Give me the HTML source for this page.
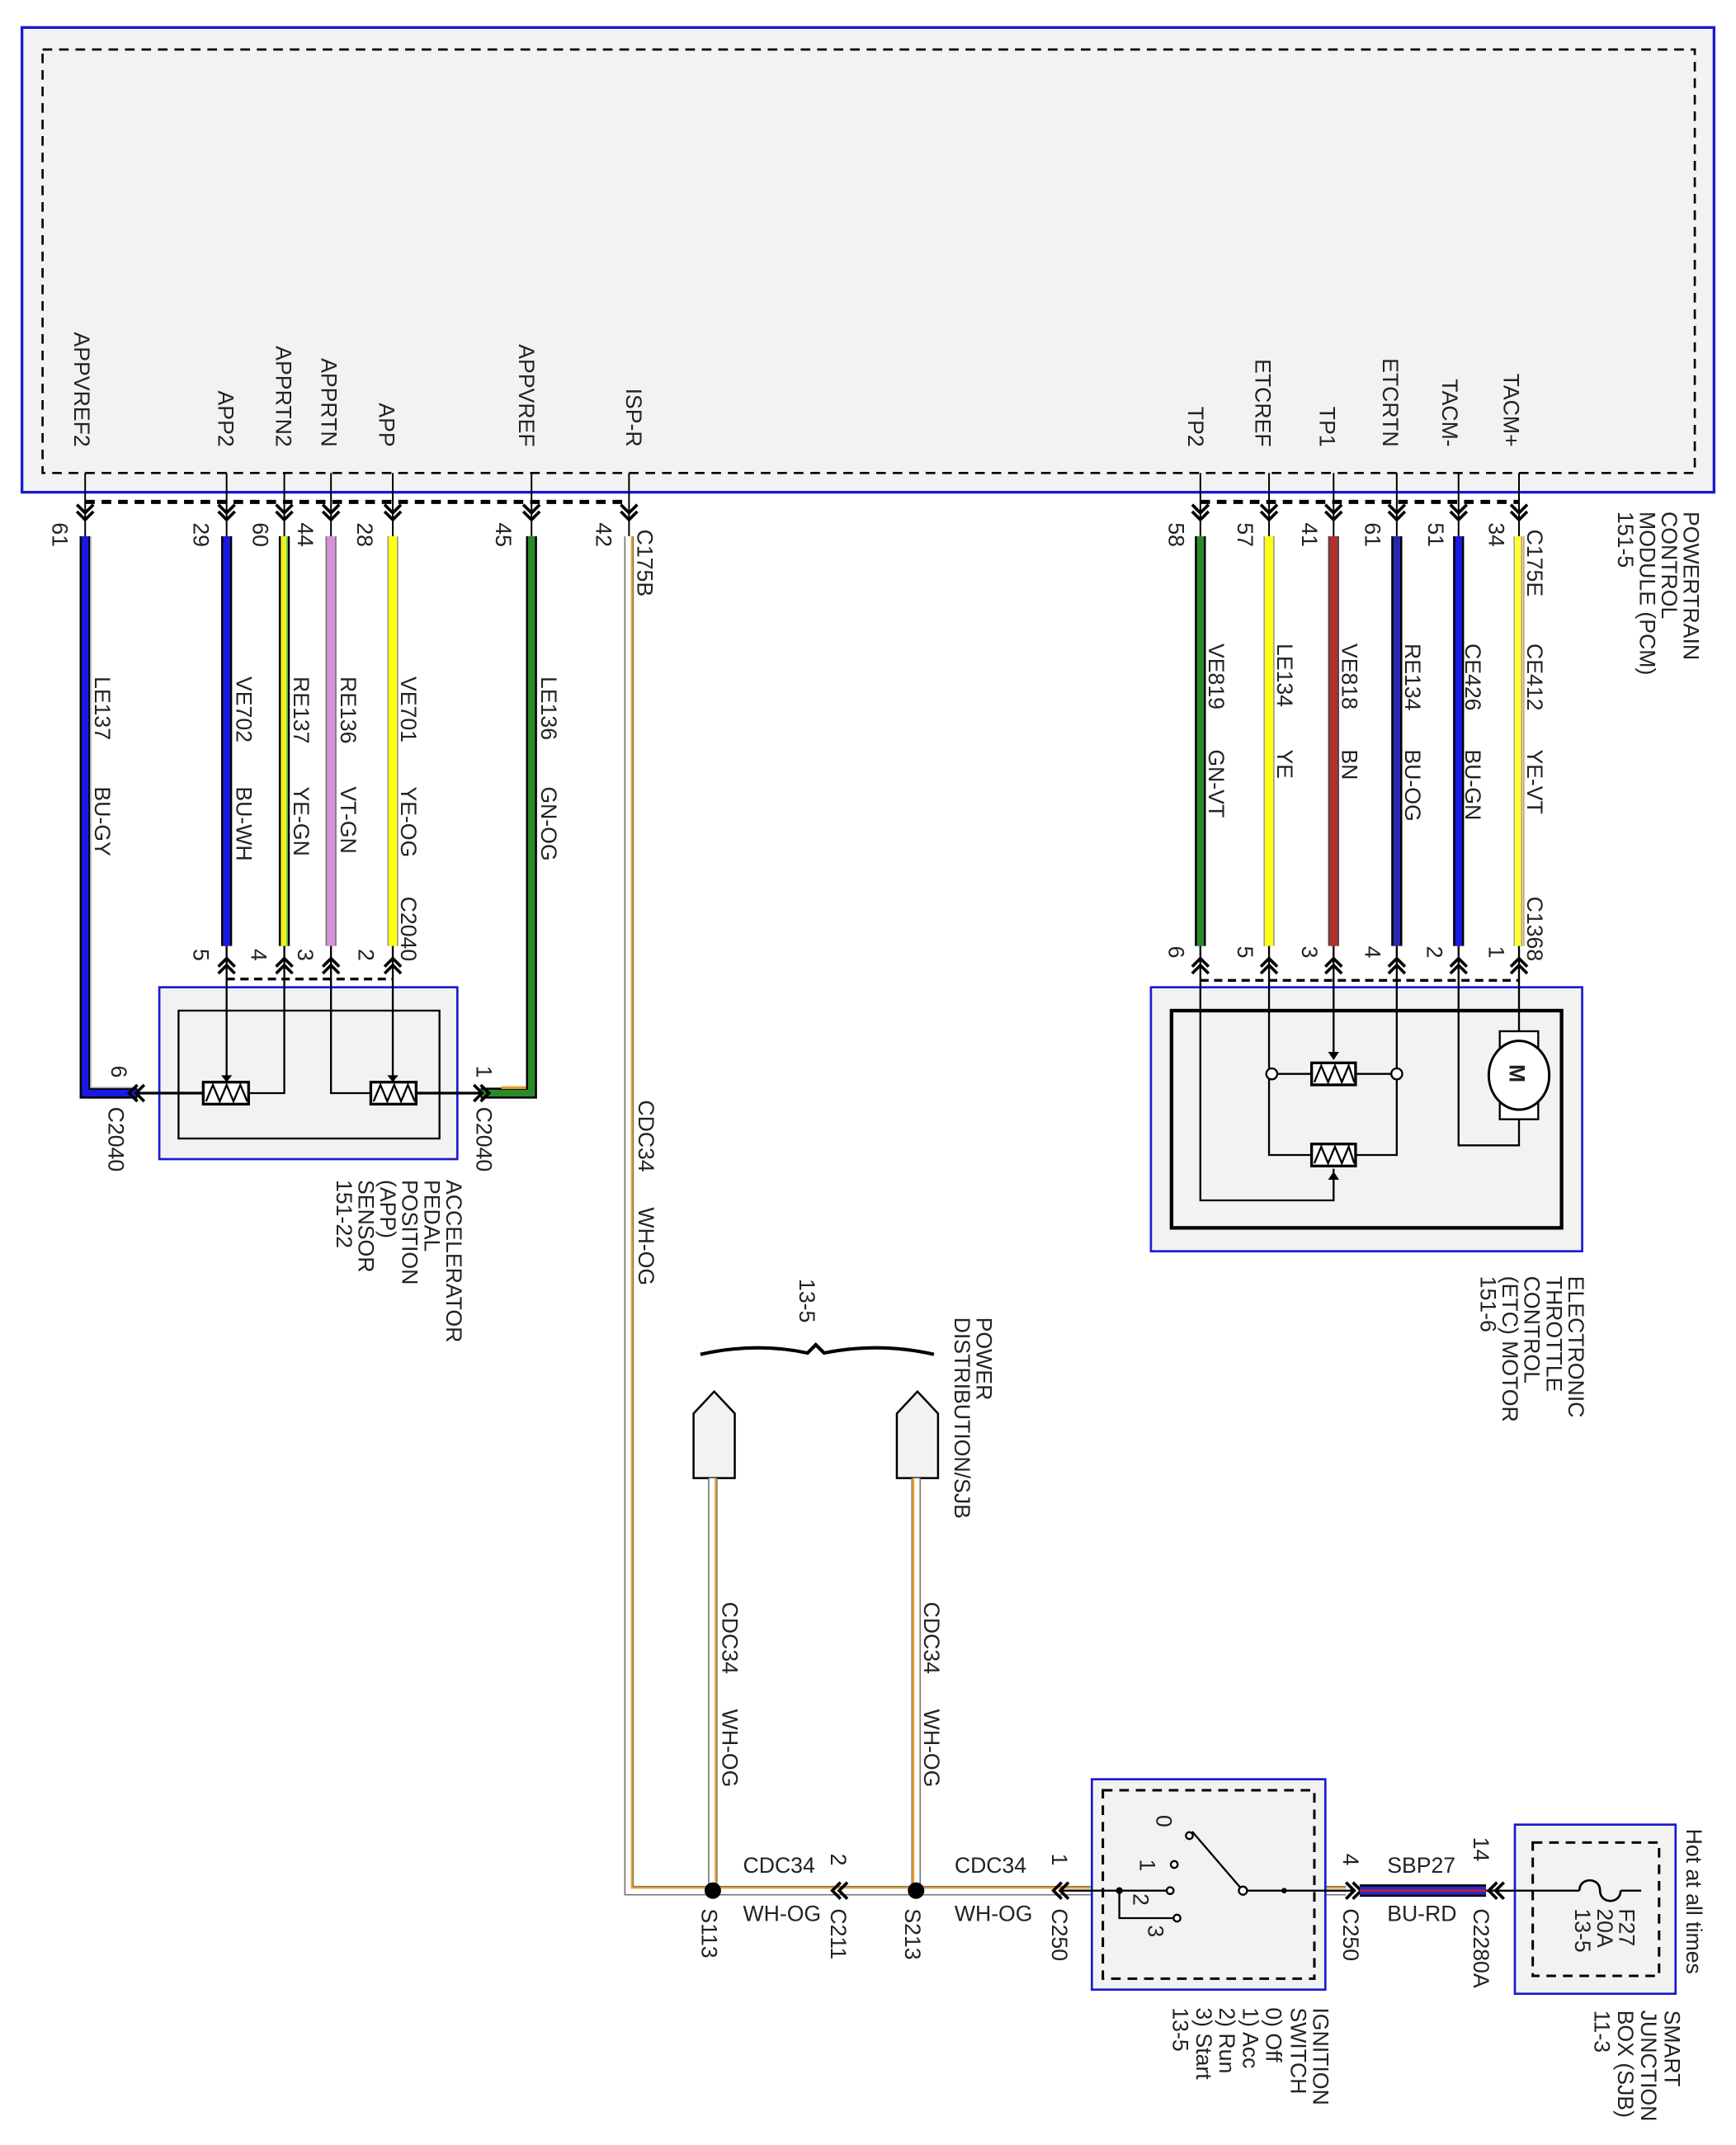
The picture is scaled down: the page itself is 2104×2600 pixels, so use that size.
<!DOCTYPE html>
<html><head><meta charset="utf-8"><style>
html,body{margin:0;padding:0;background:#fff}
svg{display:block}
text{font-family:"Liberation Sans",Arial,sans-serif;font-size:16px;fill:#222}
</style></head><body>
<svg width="2104" height="2600" viewBox="0 0 1264 1560" preserveAspectRatio="none" xmlns="http://www.w3.org/2000/svg">
<defs>
<g id="ad"><path d="M-6,-5 L0,1 L6,-5 M-6,0 L0,6 L6,0" fill="none" stroke="#000" stroke-width="2.2"/></g>
<g id="au"><path d="M-6,5 L0,-1 L6,5 M-6,0 L0,-6 L6,0" fill="none" stroke="#000" stroke-width="2.2"/></g>
<g id="al"><path d="M5,-6 L-1,0 L5,6 M0,-6 L-6,0 L0,6" fill="none" stroke="#000" stroke-width="2.2"/></g>
<g id="ar"><path d="M-5,-6 L1,0 L-5,6 M0,-6 L6,0 L0,6" fill="none" stroke="#000" stroke-width="2.2"/></g>
</defs>
<rect width="1264" height="1560" fill="#fff"/>
<!-- PCM -->
<rect x="16" y="20" width="1232" height="338" fill="#f2f2f2" stroke="#1a1ad0" stroke-width="2"/>
<rect x="31" y="36" width="1203" height="308" fill="none" stroke="#000" stroke-width="1.6" stroke-dasharray="7,5"/>
<path d="M62,365 H458" stroke="#000" stroke-width="3" stroke-dasharray="7,5"/>
<path d="M874,365 H1106" stroke="#000" stroke-width="3" stroke-dasharray="7,5"/>
<g stroke="#000" stroke-width="1.2">
<path d="M62,344V390M165,344V390M207,344V390M241,344V390M286,344V390M387,344V390M458,344V390"/>
<path d="M874,344V390M924,344V390M971,344V390M1017,344V390M1062,344V390M1106,344V390"/>
</g>
<g>
<use href="#ad" x="62" y="372"/><use href="#ad" x="165" y="372"/><use href="#ad" x="207" y="372"/><use href="#ad" x="241" y="372"/><use href="#ad" x="286" y="372"/><use href="#ad" x="387" y="372"/><use href="#ad" x="458" y="372"/>
<use href="#ad" x="874" y="372"/><use href="#ad" x="924" y="372"/><use href="#ad" x="971" y="372"/><use href="#ad" x="1017" y="372"/><use href="#ad" x="1062" y="372"/><use href="#ad" x="1106" y="372"/>
</g>
<!-- PCM pin labels -->
<g text-anchor="end">
<text transform="translate(54,325) rotate(90)">APPVREF2</text>
<text transform="translate(159,325) rotate(90)">APP2</text>
<text transform="translate(201,325) rotate(90)">APPRTN2</text>
<text transform="translate(234,325) rotate(90)">APPRTN</text>
<text transform="translate(276,325) rotate(90)">APP</text>
<text transform="translate(378,325) rotate(90)">APPVREF</text>
<text transform="translate(456,325) rotate(90)">ISP-R</text>
<text transform="translate(865,325) rotate(90)">TP2</text>
<text transform="translate(914,325) rotate(90)">ETCREF</text>
<text transform="translate(961,325) rotate(90)">TP1</text>
<text transform="translate(1007,325) rotate(90)">ETCRTN</text>
<text transform="translate(1050,325) rotate(90)">TACM-</text>
<text transform="translate(1095,325) rotate(90)">TACM+</text>
</g>
<!-- pin numbers top -->
<g fill="#444">
<text transform="translate(38,380) rotate(90)">61</text>
<text transform="translate(141,380) rotate(90)">29</text>
<text transform="translate(184,380) rotate(90)">60</text>
<text transform="translate(217,380) rotate(90)">44</text>
<text transform="translate(260,380) rotate(90)">28</text>
<text transform="translate(361,380) rotate(90)">45</text>
<text transform="translate(434,380) rotate(90)">42</text>
<text transform="translate(464,385) rotate(90)">C175B</text>
<text transform="translate(851,380) rotate(90)">58</text>
<text transform="translate(901,380) rotate(90)">57</text>
<text transform="translate(948,380) rotate(90)">41</text>
<text transform="translate(994,380) rotate(90)">61</text>
<text transform="translate(1040,380) rotate(90)">51</text>
<text transform="translate(1084,380) rotate(90)">34</text>
<text transform="translate(1112,385) rotate(90)">C175E</text>
</g>
<!-- PCM label -->
<text transform="translate(1226,372) rotate(90)">POWERTRAIN</text>
<text transform="translate(1210,372) rotate(90)">CONTROL</text>
<text transform="translate(1194,372) rotate(90)">MODULE (PCM)</text>
<text transform="translate(1178,372) rotate(90)">151-5</text>

<!-- left wires -->
<g stroke-linecap="butt">
<path d="M62,390V795H100" fill="none" stroke="#000" stroke-width="8"/>
<path d="M62,390V795H100" fill="none" stroke="#1a1ae0" stroke-width="5"/>
<path d="M66,390V791H100" fill="none" stroke="#9aa" stroke-width="1"/>
<path d="M165,390V688" stroke="#000" stroke-width="8"/><path d="M165,390V688" stroke="#1a1ae0" stroke-width="5"/>
<path d="M207,390V688" stroke="#000" stroke-width="8"/><path d="M207,390V688" stroke="#f0f020" stroke-width="5"/><path d="M209,390V688" stroke="#5c5" stroke-width="1"/>
<path d="M241,390V688" stroke="#777" stroke-width="8"/><path d="M241,390V688" stroke="#d890d8" stroke-width="6"/>
<path d="M286,390V688" stroke="#999" stroke-width="8"/><path d="M286,390V688" stroke="#ffff10" stroke-width="6"/>
<path d="M387,390V795H350" fill="none" stroke="#000" stroke-width="8"/>
<path d="M387,390V795H350" fill="none" stroke="#2a8a2a" stroke-width="5"/>
<path d="M383,791H365" stroke="#e0a020" stroke-width="2"/>
<path d="M458,390V1375H519" fill="none" stroke="#777" stroke-width="7"/>
<path d="M458,390V1375H519" fill="none" stroke="#fff" stroke-width="5"/>
<path d="M460,390V1373H519" fill="none" stroke="#f0a020" stroke-width="1.3"/>
</g>
<!-- left wire labels -->
<g>
<text transform="translate(69,492) rotate(90)">LE137</text><text transform="translate(69,572) rotate(90)">BU-GY</text>
<text transform="translate(172,492) rotate(90)">VE702</text><text transform="translate(172,572) rotate(90)">BU-WH</text>
<text transform="translate(214,492) rotate(90)">RE137</text><text transform="translate(214,572) rotate(90)">YE-GN</text>
<text transform="translate(248,492) rotate(90)">RE136</text><text transform="translate(248,572) rotate(90)">VT-GN</text>
<text transform="translate(292,492) rotate(90)">VE701</text><text transform="translate(292,572) rotate(90)">YE-OG</text>
<text transform="translate(394,492) rotate(90)">LE136</text><text transform="translate(394,572) rotate(90)">GN-OG</text>
<text transform="translate(292,652) rotate(90)">C2040</text>
<text transform="translate(465,800) rotate(90)">CDC34</text><text transform="translate(465,878) rotate(90)">WH-OG</text>
</g>
<!-- APP sensor -->
<path d="M165,712H286" stroke="#000" stroke-width="2" stroke-dasharray="6,4"/>
<use href="#au" x="165" y="703"/><use href="#au" x="207" y="703"/><use href="#au" x="241" y="703"/><use href="#au" x="286" y="703"/>
<g fill="#444">
<text transform="translate(141,690) rotate(90)">5</text><text transform="translate(183,690) rotate(90)">4</text>
<text transform="translate(217,690) rotate(90)">3</text><text transform="translate(261,690) rotate(90)">2</text>
</g>
<rect x="116" y="718" width="217" height="125" fill="#f2f2f2" stroke="#1a1ad0" stroke-width="1.6"/>
<rect x="130" y="735" width="190" height="93" fill="none" stroke="#000" stroke-width="1.4"/>
<g stroke="#000" stroke-width="1.4" fill="none">
<path d="M165,688V788M207,688V795H182M241,688V795H270M286,688V788"/>
<path d="M100,795H148M303,795H350" stroke-width="2"/>
<rect x="148" y="787" width="33" height="16" fill="#fff" stroke-width="2"/>
<rect x="270" y="787" width="33" height="16" fill="#fff" stroke-width="2"/>
<path d="M150,801 L155,789 L160,801 L165,789 L170,801 L175,789 L180,801"/>
<path d="M272,801 L277,789 L282,801 L287,789 L292,801 L297,789 L302,801"/>
</g>
<path d="M161,782h8l-4,5z M282,782h8l-4,5z" fill="#000"/>
<use href="#al" x="100" y="795"/><use href="#ar" x="350" y="795"/>
<text transform="translate(81,775) rotate(90)" fill="#444">6</text>
<text transform="translate(79,805) rotate(90)">C2040</text>
<text transform="translate(347,775) rotate(90)" fill="#444">1</text>
<text transform="translate(347,805) rotate(90)">C2040</text>
<text transform="translate(325,858) rotate(90)">ACCELERATOR</text>
<text transform="translate(309,858) rotate(90)">PEDAL</text>
<text transform="translate(293,858) rotate(90)">POSITION</text>
<text transform="translate(277,858) rotate(90)">(APP)</text>
<text transform="translate(261,858) rotate(90)">SENSOR</text>
<text transform="translate(245,858) rotate(90)">151-22</text>

<!-- right wires -->
<g>
<path d="M874,390V688" stroke="#000" stroke-width="8"/><path d="M874,390V688" stroke="#2a8a2a" stroke-width="5"/>
<path d="M924,390V688" stroke="#999" stroke-width="8"/><path d="M924,390V688" stroke="#ffff10" stroke-width="6"/>
<path d="M971,390V688" stroke="#444" stroke-width="8"/><path d="M971,390V688" stroke="#b03030" stroke-width="6"/>
<path d="M1017,390V688" stroke="#000" stroke-width="8"/><path d="M1017,390V688" stroke="#2828b0" stroke-width="5"/>
<path d="M1062,390V688" stroke="#000" stroke-width="8"/><path d="M1062,390V688" stroke="#1a1ae0" stroke-width="5"/>
<path d="M1106,390V688" stroke="#aaa" stroke-width="8"/><path d="M1106,390V688" stroke="#ffff30" stroke-width="6"/><path d="M1108,390V688" stroke="#c8a" stroke-width="1"/>
</g>
<g>
<text transform="translate(880,468) rotate(90)">VE819</text><text transform="translate(880,545) rotate(90)">GN-VT</text>
<text transform="translate(930,468) rotate(90)">LE134</text><text transform="translate(930,545) rotate(90)">YE</text>
<text transform="translate(977,468) rotate(90)">VE818</text><text transform="translate(977,545) rotate(90)">BN</text>
<text transform="translate(1023,468) rotate(90)">RE134</text><text transform="translate(1023,545) rotate(90)">BU-OG</text>
<text transform="translate(1067,468) rotate(90)">CE426</text><text transform="translate(1067,545) rotate(90)">BU-GN</text>
<text transform="translate(1112,468) rotate(90)">CE412</text><text transform="translate(1112,545) rotate(90)">YE-VT</text>
<text transform="translate(1112,652) rotate(90)">C1368</text>
</g>
<g fill="#444">
<text transform="translate(851,688) rotate(90)">6</text><text transform="translate(901,688) rotate(90)">5</text>
<text transform="translate(948,688) rotate(90)">3</text><text transform="translate(994,688) rotate(90)">4</text>
<text transform="translate(1039,688) rotate(90)">2</text><text transform="translate(1084,688) rotate(90)">1</text>
</g>
<!-- ETC -->
<path d="M874,713H1106" stroke="#000" stroke-width="2" stroke-dasharray="6,4"/>
<use href="#au" x="874" y="703"/><use href="#au" x="924" y="703"/><use href="#au" x="971" y="703"/><use href="#au" x="1017" y="703"/><use href="#au" x="1062" y="703"/><use href="#au" x="1106" y="703"/>
<rect x="838" y="718" width="314" height="192" fill="#f2f2f2" stroke="#1a1ad0" stroke-width="1.6"/>
<rect x="853" y="735" width="284" height="158" fill="none" stroke="#000" stroke-width="2.6"/>
<g stroke="#000" stroke-width="1.4" fill="none">
<path d="M874,688V873H971V850"/>
<path d="M924,688V840H955M987,840H1017V688"/>
<path d="M929,781H955M987,781H1013"/>
<path d="M971,688V768"/>
<path d="M1062,688V833H1106V814M1106,688V750"/>
<circle cx="926" cy="781" r="4" fill="#fff"/>
<circle cx="1017" cy="781" r="4" fill="#fff"/>
<rect x="955" y="773" width="32" height="16" fill="#fff" stroke-width="2"/>
<rect x="955" y="832" width="32" height="16" fill="#fff" stroke-width="2"/>
<path d="M957,787 L962,775 L967,787 L972,775 L977,787 L982,775 L986,787"/>
<path d="M957,846 L962,834 L967,846 L972,834 L977,846 L982,834 L986,846"/>
<rect x="1092" y="750" width="28" height="64" fill="#fff"/>
<ellipse cx="1106" cy="782" rx="22" ry="25" fill="#fff" stroke-width="1.8"/>
</g>
<path d="M967,765h8l-4,6z M967,858h8l-4,-6z" fill="#000"/>
<text transform="translate(1099,774) rotate(90)" font-size="15" font-weight="bold">M</text>
<text transform="translate(1142,928) rotate(90)">ELECTRONIC</text>
<text transform="translate(1126,928) rotate(90)">THROTTLE</text>
<text transform="translate(1110,928) rotate(90)">CONTROL</text>
<text transform="translate(1094,928) rotate(90)">(ETC) MOTOR</text>
<text transform="translate(1078,928) rotate(90)">151-6</text>

<!-- power distribution -->
<path d="M510,985 Q550,976 588,984 L594,978 L600,984 Q640,976 680,985" fill="none" stroke="#000" stroke-width="2.5"/>
<text transform="translate(582,930) rotate(90)">13-5</text>
<text transform="translate(711,958) rotate(90)">POWER</text>
<text transform="translate(695,958) rotate(90)">DISTRIBUTION/SJB</text>
<path d="M505,1028 L520,1012 L535,1028 V1075 H505 Z" fill="#f2f2f2" stroke="#000" stroke-width="1.5"/>
<path d="M653,1028 L668,1012 L683,1028 V1075 H653 Z" fill="#f2f2f2" stroke="#000" stroke-width="1.5"/>
<g>
<path d="M519,1075V1375" stroke="#777" stroke-width="7"/><path d="M519,1075V1375" stroke="#fff" stroke-width="5"/><path d="M521,1075V1375" stroke="#f0a020" stroke-width="1.3"/>
<path d="M667,1075V1375" stroke="#777" stroke-width="7"/><path d="M667,1075V1375" stroke="#fff" stroke-width="5"/><path d="M665,1075V1375" stroke="#f0a020" stroke-width="1.5"/>
<path d="M519,1375H980" stroke="#777" stroke-width="7"/><path d="M519,1375H980" stroke="#fff" stroke-width="5"/><path d="M519,1373H980" stroke="#f0a020" stroke-width="1.3"/>
</g>
<text transform="translate(526,1165) rotate(90)">CDC34</text><text transform="translate(526,1243) rotate(90)">WH-OG</text>
<text transform="translate(673,1165) rotate(90)">CDC34</text><text transform="translate(673,1243) rotate(90)">WH-OG</text>
<circle cx="519" cy="1375" r="6" fill="#000"/><circle cx="667" cy="1375" r="6" fill="#000"/>
<text transform="translate(511,1388) rotate(90)">S113</text>
<text transform="translate(659,1388) rotate(90)">S213</text>
<text x="541" y="1362">CDC34</text><text x="541" y="1397">WH-OG</text>
<text x="695" y="1362">CDC34</text><text x="695" y="1397">WH-OG</text>
<use href="#al" x="612" y="1375"/><use href="#al" x="773" y="1375"/>
<text transform="translate(605,1348) rotate(90)" fill="#444">2</text>
<text transform="translate(605,1388) rotate(90)">C211</text>
<text transform="translate(766,1348) rotate(90)" fill="#444">1</text>
<text transform="translate(766,1388) rotate(90)">C250</text>
<!-- ignition switch -->
<rect x="795" y="1294" width="170" height="153" fill="#f2f2f2" stroke="#1a1ad0" stroke-width="1.6"/>
<rect x="803" y="1302" width="154" height="137" fill="none" stroke="#000" stroke-width="1.8" stroke-dasharray="7,5"/>
<g stroke="#000" stroke-width="1.4" fill="none">
<path d="M773,1375H815"/>
<path d="M815,1375V1395H855"/>
<path d="M815,1375H850"/>
<path d="M905,1375H985"/>
<path d="M905,1375 L868,1332"/>
<circle cx="905" cy="1375" r="3" fill="#fff"/>
<circle cx="866" cy="1335" r="2.5" fill="#fff"/>
<circle cx="855" cy="1356" r="2.5" fill="#fff"/>
<circle cx="852" cy="1375" r="2.5" fill="#fff"/>
<circle cx="857" cy="1395" r="2.5" fill="#fff"/>
</g>
<circle cx="815" cy="1375" r="2.5" fill="#000"/><circle cx="935" cy="1375" r="2" fill="#000"/>
<g font-size="15">
<text transform="translate(842,1320) rotate(90)">0</text>
<text transform="translate(830,1352) rotate(90)">1</text>
<text transform="translate(825,1377) rotate(90)">2</text>
<text transform="translate(836,1400) rotate(90)">3</text>
</g>
<text transform="translate(956,1460) rotate(90)">IGNITION</text>
<text transform="translate(940,1460) rotate(90)">SWITCH</text>
<text transform="translate(922,1460) rotate(90)">0) Off</text>
<text transform="translate(905,1460) rotate(90)">1) Acc</text>
<text transform="translate(888,1460) rotate(90)">2) Run</text>
<text transform="translate(871,1460) rotate(90)">3) Start</text>
<text transform="translate(854,1460) rotate(90)">13-5</text>
<use href="#ar" x="985" y="1375"/>
<text transform="translate(978,1348) rotate(90)" fill="#444">4</text>
<text transform="translate(978,1388) rotate(90)">C250</text>
<path d="M990,1375H1082" stroke="#000" stroke-width="9"/>
<path d="M990,1375H1082" stroke="#2828d0" stroke-width="6"/>
<path d="M990,1375H1082" stroke="#d02020" stroke-width="1.5"/>
<text x="1010" y="1362">SBP27</text><text x="1010" y="1397">BU-RD</text>
<use href="#al" x="1090" y="1375"/>
<path d="M1082,1375H1150" stroke="#000" stroke-width="1.4"/>
<text transform="translate(1073,1336) rotate(90)" fill="#444">14</text>
<text transform="translate(1073,1388) rotate(90)">C2280A</text>
<!-- SJB -->
<rect x="1103" y="1327" width="117" height="123" fill="#f2f2f2" stroke="#1a1ad0" stroke-width="1.6"/>
<rect x="1116" y="1340" width="92" height="97" fill="none" stroke="#000" stroke-width="1.8" stroke-dasharray="7,5"/>
<path d="M1090,1375H1150 M1180,1375H1195" stroke="#000" stroke-width="1.4"/>
<path d="M1150,1375 C1150,1365 1165,1365 1165,1375 C1165,1385 1180,1385 1180,1375" fill="none" stroke="#000" stroke-width="1.6"/>
<text transform="translate(1179,1388) rotate(90)">F27</text>
<text transform="translate(1163,1388) rotate(90)">20A</text>
<text transform="translate(1147,1388) rotate(90)">13-5</text>
<text transform="translate(1228,1330) rotate(90)">Hot at all times</text>
<text transform="translate(1212,1462) rotate(90)">SMART</text>
<text transform="translate(1195,1462) rotate(90)">JUNCTION</text>
<text transform="translate(1178,1462) rotate(90)">BOX (SJB)</text>
<text transform="translate(1161,1462) rotate(90)">11-3</text>
</svg>
</body></html>
